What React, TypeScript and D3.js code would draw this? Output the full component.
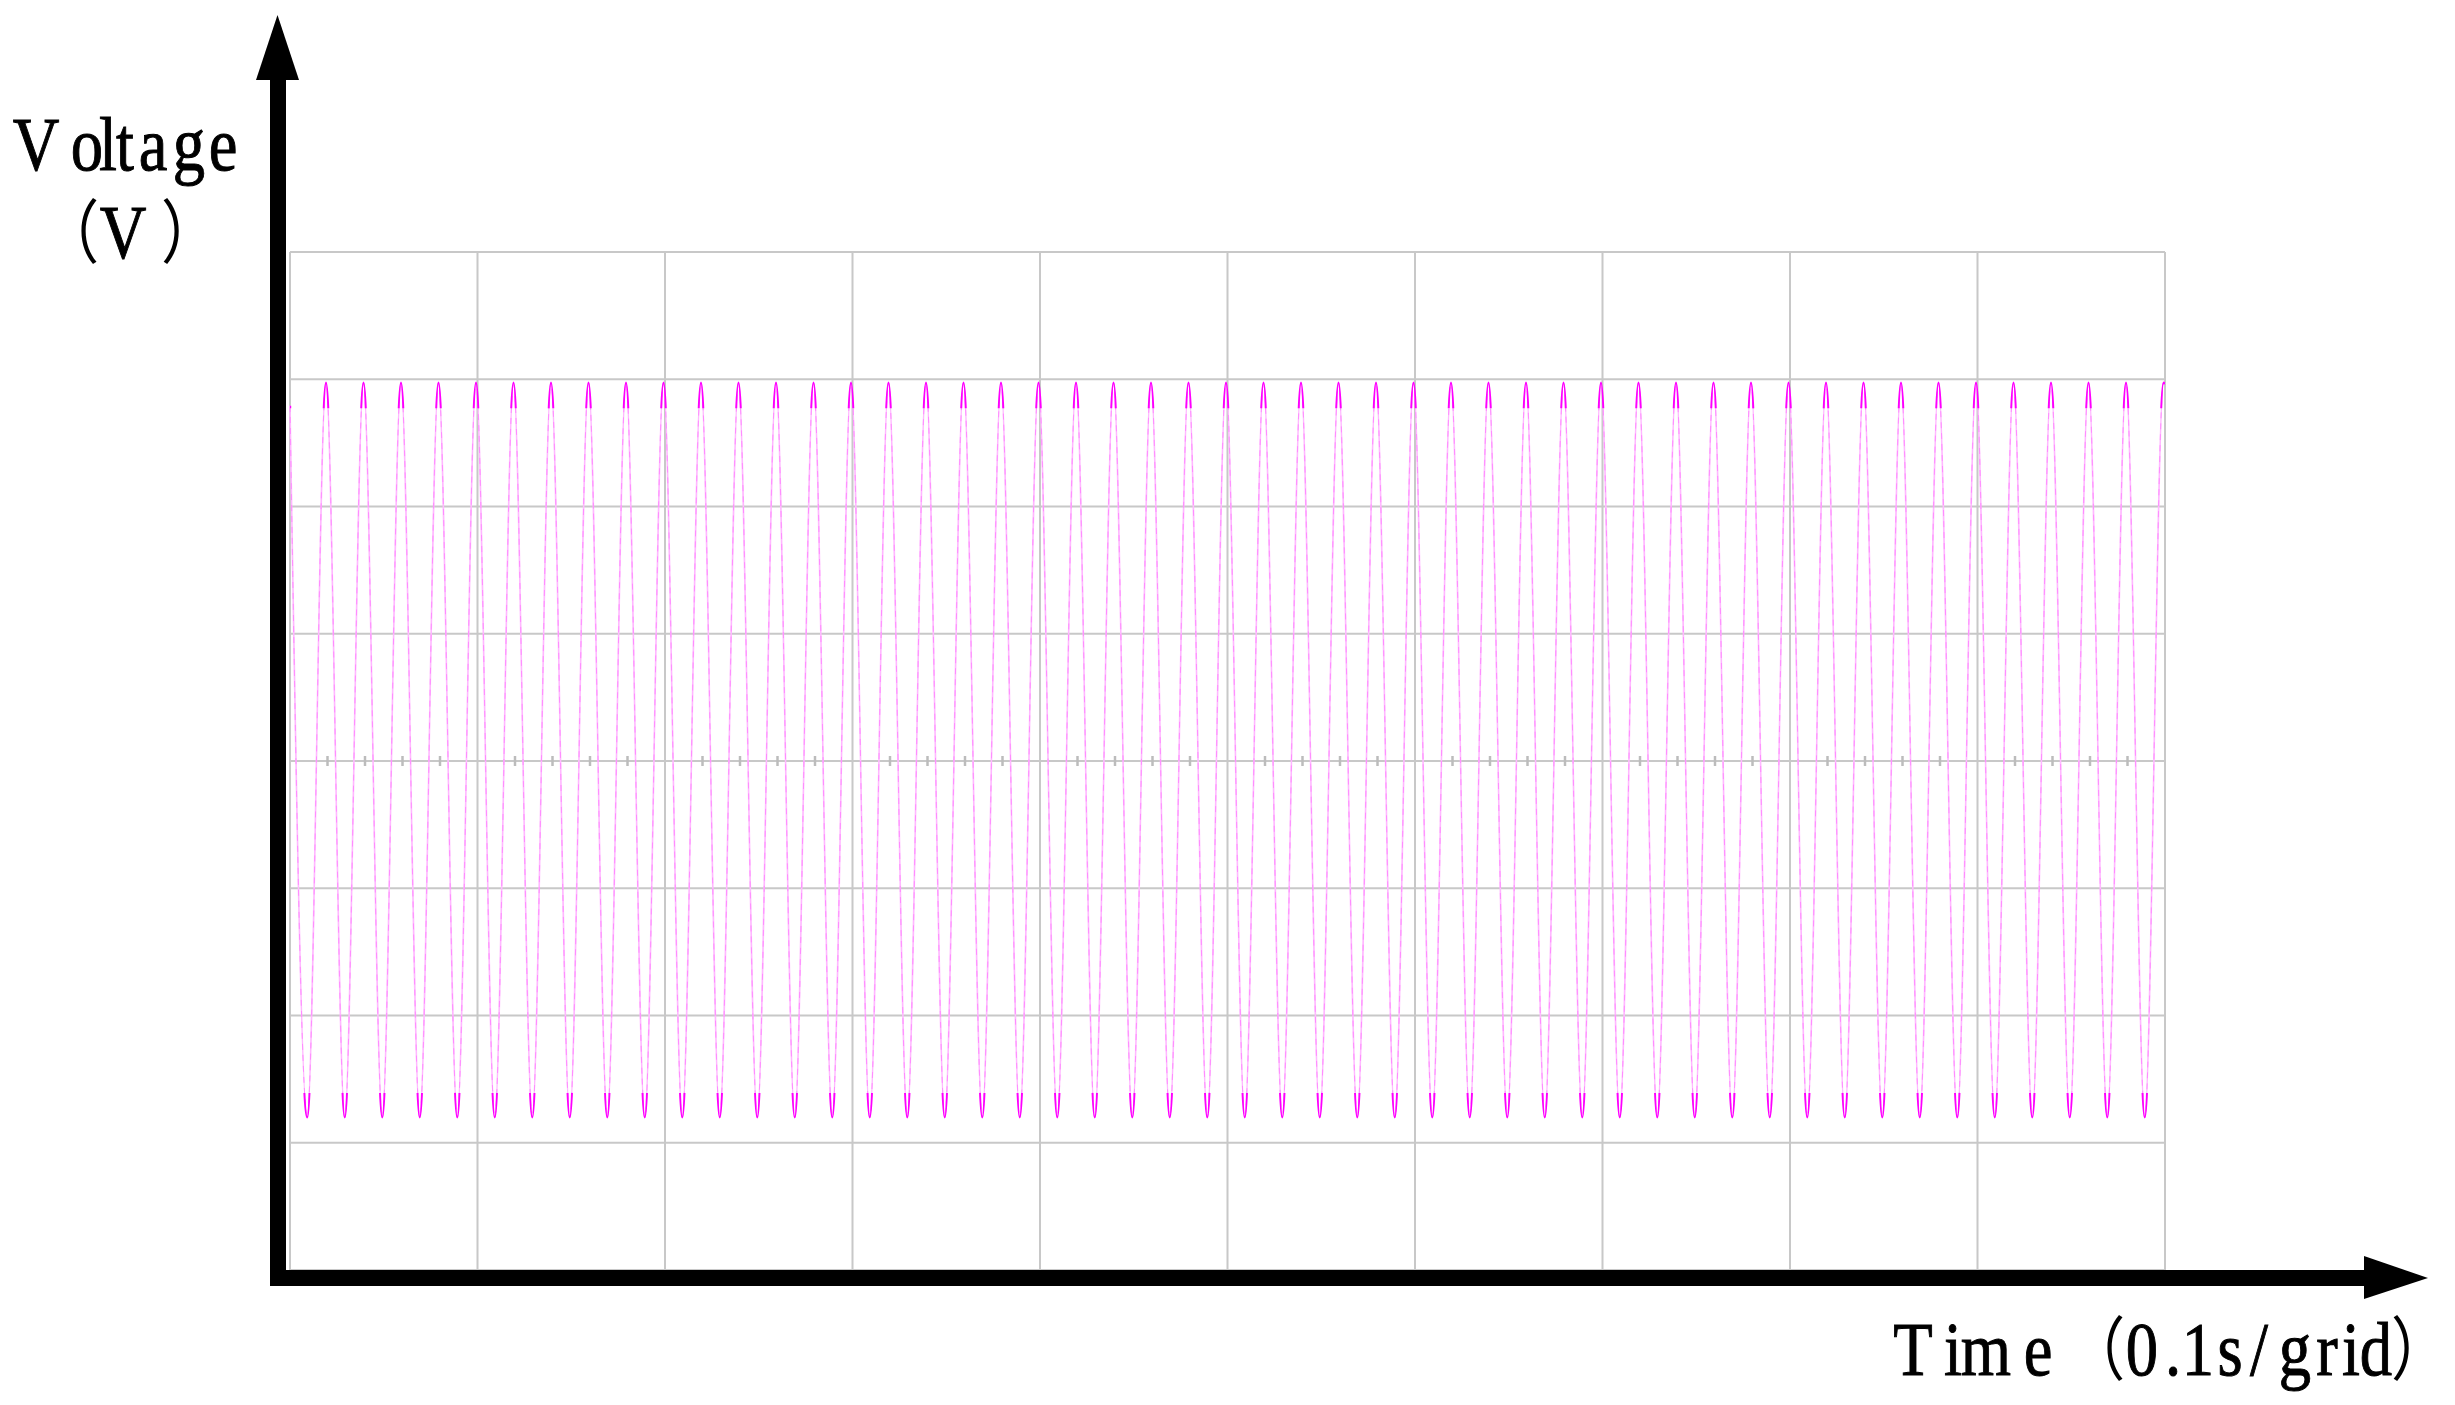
import * as d3 from 'd3';

// time in ms, voltage in V (0.1 s per grid, 110 V per grid)
const peakTimes = [
  19.2, 39.2, 59.2, 79.2, 99.2, 119.2, 139.2, 159.2, 179.2, 199.2,
  219.2, 239.2, 259.2, 279.2, 299.2, 319.2, 339.2, 359.2, 379.2, 399.2,
  419.2, 439.2, 459.2, 479.2, 499.2, 519.2, 539.2, 559.2, 579.2, 599.2,
  619.2, 639.2, 659.2, 679.2, 699.2, 719.2, 739.2, 759.2, 779.2, 799.2,
  819.2, 839.2, 859.2, 879.2, 899.2, 919.2, 939.2, 959.2, 979.2, 999.2,
];
const peakVolts = [
  327, 327, 327, 327, 327, 327, 327, 327, 327, 327,
  327, 327, 327, 327, 327, 327, 327, 327, 327, 327,
  327, 327, 327, 327, 327, 327, 327, 327, 327, 327,
  327, 327, 327, 327, 327, 327, 327, 327, 327, 327,
  327, 327, 327, 327, 327, 327, 327, 327, 327, 327,
];
const troughTimes = [
  9.2, 29.2, 49.2, 69.2, 89.2, 109.2, 129.2, 149.2, 169.2, 189.2,
  209.2, 229.2, 249.2, 269.2, 289.2, 309.2, 329.2, 349.2, 369.2, 389.2,
  409.2, 429.2, 449.2, 469.2, 489.2, 509.2, 529.2, 549.2, 569.2, 589.2,
  609.2, 629.2, 649.2, 669.2, 689.2, 709.2, 729.2, 749.2, 769.2, 789.2,
  809.2, 829.2, 849.2, 869.2, 889.2, 909.2, 929.2, 949.2, 969.2, 989.2,
];
const troughVolts = [
  -308, -308, -308, -308, -308, -308, -308, -308, -308, -308,
  -308, -308, -308, -308, -308, -308, -308, -308, -308, -308,
  -308, -308, -308, -308, -308, -308, -308, -308, -308, -308,
  -308, -308, -308, -308, -308, -308, -308, -308, -308, -308,
  -308, -308, -308, -308, -308, -308, -308, -308, -308, -308,
];
const startPoint: [number, number] = [0, 307];
const endPoint: [number, number] = [1000, 326];

const voltGrid = [-440, -330, -220, -110, 0, 110, 220, 330, 440];

const yLabel1 = 'Voltage';
const yLabel2 = '（V）';
const xLabel = 'Time（0.1s/grid）';

const W = 2455;
const H = 1405;
const font = '"Liberation Serif", "Noto Sans CJK SC", serif';

// ink centres of each glyph
const yLabel1Pos = [36, 87, 108, 125, 153, 189, 223];
const yLabel2Pos = [70, 123, 190];
const xLabelPos = [1913, 1953, 1986, 2038, 2096, 2142, 2173, 2198, 2230, 2259, 2295, 2327, 2351, 2376, 2420];

const Glyphs = ({ text, pos, y, size = 77, sx = 0.84 }: { text: string; pos: number[]; y: number; size?: number; sx?: number }) => (
  <text
    transform={`scale(${sx},1)`}
    y={y}
    fontFamily={font}
    fontSize={size}
    textAnchor="middle"
    fill="#000"
    stroke="#000"
    strokeWidth={1}
  >
    {Array.from(text).map((ch, i) => {
      const wide = ch === '（' || ch === '）';
      return (
        <tspan key={i} x={pos[i] / sx} fontSize={wide ? size * 0.9 : size} strokeWidth={wide ? 0 : 1}>
          {ch}
        </tspan>
      );
    })}
  </text>
);

export default function App() {
  const x = d3.scaleLinear().domain([0, 1000]).range([290, 2165]);
  const y = d3.scaleLinear().domain([-440, 440]).range([1270, 252]);

  const points: [number, number][] = [startPoint];
  const ext: [number, number][] = [
    ...peakTimes.map((t, i) => [t, peakVolts[i]] as [number, number]),
    ...troughTimes.map((t, i) => [t, troughVolts[i]] as [number, number]),
  ].sort((a, b) => a[0] - b[0]);
  points.push(...ext, endPoint);

  const line = d3
    .line<[number, number]>()
    .x(d => x(d[0]))
    .y(d => y(d[1]))
    .curve(d3.curveMonotoneX);
  const wave = line(points) || '';

  const majorTicks = x.ticks(10);
  const minorTicks = x.ticks(50).filter(t => t % 100 !== 0);

  const [x0, x1] = x.range();
  const yTop = y(440);
  const yBot = y(-440);
  const vMax = d3.max(peakVolts)!;
  const vMin = d3.min(troughVolts)!;

  return (
    <svg width={W} height={H} style={{ position: 'absolute', left: 0, top: 0, background: '#fff' }}>
      <defs>
        <clipPath id="tips">
          <rect x={x0} y={y(vMax) - 3} width={x1 - x0} height={y(305) - y(vMax) + 3} />
          <rect x={x0} y={y(-287)} width={x1 - x0} height={y(vMin) - y(-287) + 3} />
        </clipPath>
      </defs>
      <rect width={W} height={H} fill="#fff" />

      {/* grid */}
      <g stroke="#c8c8c8" strokeWidth={2}>
        {voltGrid.map(v => (
          <line key={v} x1={x0} x2={x1} y1={y(v)} y2={y(v)} />
        ))}
        {majorTicks.map(t => (
          <line key={t} x1={x(t)} x2={x(t)} y1={yTop} y2={yBot} />
        ))}
      </g>
      <g stroke="#bcbcbc" strokeWidth={2.5}>
        {minorTicks.map(t => (
          <line key={t} x1={x(t)} x2={x(t)} y1={y(0) - 5} y2={y(0) + 5} />
        ))}
      </g>

      {/* waveform */}
      <path d={wave} fill="none" stroke="#ffb8ff" strokeWidth={1.6} />
      <path d={wave} fill="none" stroke="#ff8cff" strokeWidth={1} strokeDasharray="6 5" />
      <path d={wave} fill="none" stroke="#ff00ff" strokeWidth={2.4} clipPath="url(#tips)" />

      {/* axes */}
      <rect x={270} y={78} width={16} height={1286 - 78} fill="#000" />
      <polygon points="256,80 299,80 277.5,15" fill="#000" />
      <rect x={270} y={1270} width={2366 - 270} height={16} fill="#000" />
      <polygon points="2364,1256 2364,1299 2428,1278" fill="#000" />

      {/* labels */}
      <Glyphs text={yLabel1} pos={yLabel1Pos} y={170} />
      <Glyphs text={yLabel2} pos={yLabel2Pos} y={258} />
      <Glyphs text={xLabel} pos={xLabelPos} y={1375} />
    </svg>
  );
}
